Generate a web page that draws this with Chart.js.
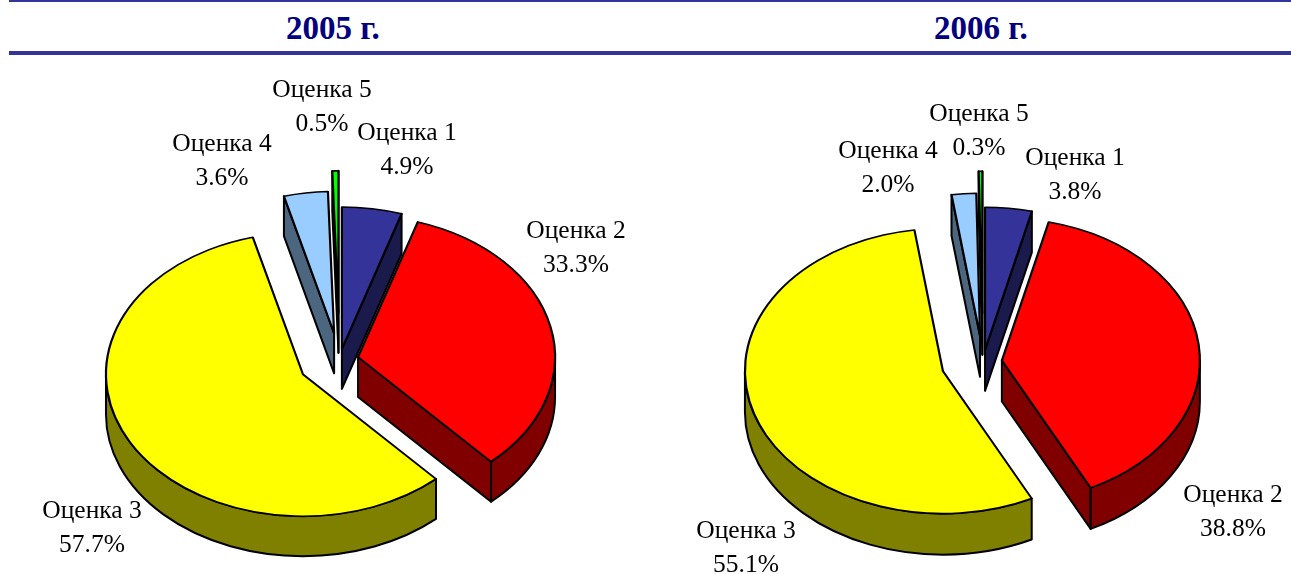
<!DOCTYPE html>
<html><head><meta charset="utf-8">
<style>
html,body{margin:0;padding:0;background:#fff;overflow:hidden}
#page{position:relative;width:1291px;height:574px;overflow:hidden}
canvas{position:absolute;top:0}
.rule{position:absolute;left:9px;right:0;background:#333399}
.head{position:absolute;top:9px;width:300px;text-align:center;font:bold 33px/38px "Liberation Serif",serif;color:#000080}
</style>
<script src="https://cdn.jsdelivr.net/npm/chart.js@4/dist/chart.umd.min.js"></script>
</head><body>
<div id="page">
<div class="rule" style="top:0;height:2px"></div>
<div class="rule" style="top:51px;height:4px"></div>
<div class="head" id="h1" style="left:183px"></div>
<div class="head" id="h2" style="left:831px"></div>
<canvas id="c1" width="679" height="574" style="left:0"></canvas>
<canvas id="c2" width="616" height="574" style="left:675px"></canvas>
</div>
<script>
const years = ['2005 г.', '2006 г.'];
const categories = ['Оценка 1', 'Оценка 2', 'Оценка 3', 'Оценка 4', 'Оценка 5'];
const values2005 = [4.9, 33.3, 57.7, 3.6, 0.5];
const values2006 = [3.8, 38.8, 55.1, 2.0, 0.3];

const topColors  = ['#333399', '#ff0000', '#ffff00', '#99ccff', '#00ff00'];
const wallColors = ['#1a1a4d', '#800000', '#808000', '#4d6680', '#008000'];

const TILT = 0.72;

const pie3d = {
  id: 'pie3d',
  beforeDatasetDraw(chart, args, opts) {
    const ctx = chart.ctx, arcs = args.meta.data;
    const depth = opts.depth;
    const place = (a, i) => {
      const mid = (a.startAngle + a.endAngle) / 2, off = opts.explode[i];
      return { x: a.x + Math.cos(mid) * off, y: a.y + TILT * Math.sin(mid) * off };
    };
    const rim = (p, r, t) => ({ x: p.x + r * Math.cos(t), y: p.y + TILT * r * Math.sin(t) });
    ctx.save();
    ctx.lineWidth = 2; ctx.lineJoin = 'round'; ctx.strokeStyle = '#000';
    arcs.forEach((a, i) => {
      const p = place(a, i), r = a.outerRadius;
      ctx.fillStyle = wallColors[i];
      const radial = t => {
        const e = rim(p, r, t);
        ctx.beginPath(); ctx.moveTo(p.x, p.y); ctx.lineTo(e.x, e.y);
        ctx.lineTo(e.x, e.y + depth); ctx.lineTo(p.x, p.y + depth); ctx.closePath();
        ctx.fill(); ctx.stroke();
      };
      if (Math.cos(a.startAngle) < 0) radial(a.startAngle);
      if (Math.cos(a.endAngle) >= -1e-6) radial(a.endAngle);
      const t0 = Math.max(a.startAngle, 0), t1 = Math.min(a.endAngle, Math.PI);
      if (t1 > t0) {
        ctx.beginPath();
        ctx.ellipse(p.x, p.y, r, TILT * r, 0, t0, t1);
        ctx.ellipse(p.x, p.y + depth, r, TILT * r, 0, t1, t0, true);
        ctx.closePath(); ctx.fill(); ctx.stroke();
      }
    });
    ctx.restore();
    arcs.forEach((a, i) => {
      const mid = (a.startAngle + a.endAngle) / 2, off = opts.explode[i];
      ctx.save();
      ctx.translate(a.x, a.y); ctx.scale(1, TILT); ctx.translate(-a.x, -a.y);
      ctx.translate(Math.cos(mid) * off, Math.sin(mid) * off);
      a.draw(ctx);
      ctx.restore();
    });
    return false;
  },
  afterDraw(chart, args, opts) {
    const ctx = chart.ctx, ds = chart.data.datasets[0];
    ctx.save();
    ctx.font = '25.5px "Liberation Serif", serif';
    ctx.fillStyle = '#000';
    ctx.textAlign = 'center'; ctx.textBaseline = 'middle';
    chart.data.labels.forEach((name, i) => {
      const [x, y] = opts.labelAt[i];
      ctx.fillText(name, x, y);
      ctx.fillText(ds.data[i].toFixed(1) + '%', x, y + 34.5);
    });
    ctx.restore();
  }
};

function makePie(id, values, radius, padTop, explode, depth, labelAt) {
  return new Chart(document.getElementById(id), {
    type: 'pie',
    data: { labels: categories, datasets: [{
      data: values, backgroundColor: topColors, borderColor: '#000',
      borderWidth: 2.2, borderJoinStyle: 'round', radius
    }]},
    options: {
      responsive: false, animation: false, events: [],
      layout: { padding: { top: padTop } },
      plugins: { legend: { display: false }, tooltip: { enabled: false },
        pie3d: { explode, depth, labelAt } }
    },
    plugins: [pie3d]
  });
}

document.getElementById('h1').textContent = years[0];
document.getElementById('h2').textContent = years[1];

makePie('c1', values2005, 197, 146,
  [15.6, 19, 41.6, 37.4, 65.7], 40,
  [[407,133],[576,231],[92,511],[222,144],[322,90]]);
makePie('c2', values2006, 198, 150,
  [17, 19, 42, 36.5, 67], 41,
  [[400,158],[558,495],[71,531],[213,151],[304,114]]);
</script>
</body></html>
